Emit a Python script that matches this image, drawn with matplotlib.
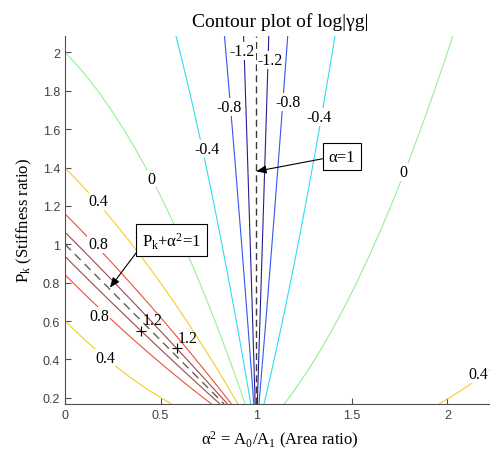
import numpy as np
import matplotlib
matplotlib.use("Agg")
import matplotlib.pyplot as plt

plt.rcParams["mathtext.fontset"] = "custom"
plt.rcParams["mathtext.rm"] = "Liberation Serif"
plt.rcParams["mathtext.it"] = "Liberation Serif:italic"
plt.rcParams["mathtext.bf"] = "Liberation Serif:bold"

# plotted range: alpha^2 = A0/A1 along x, Pk along y
area_lim = [0.0, 2.25]
stiff_lim = [0.168, 2.088]

# contour levels of log|yg| and the colour of each level line (jet-like)
levels = [-1.2, -0.8, -0.4, 0.0, 0.4, 0.8, 1.2]
level_colors = ["#222296", "#3456f5", "#30dcf5", "#96f096",
                "#f6cc28", "#f04e3a", "#a04848"]

# inline contour labels
label_text = ["-1.2", "-1.2", "-0.8", "-0.8", "-0.4", "-0.4", "0", "0",
              "0.4", "0.8", "0.8", "0.4", "0.4"]
label_x = [0.928, 1.072, 0.858, 1.164, 0.745, 1.329, 0.453, 1.768,
           0.173, 0.173, 0.18, 0.209, 2.162]
label_y = [2.007, 1.96, 1.715, 1.74, 1.497, 1.663, 1.34, 1.377,
           1.224, 1.0, 0.625, 0.41, 0.325]

# labels with a "+" marker
plus_text = ["1.2", "1.2"]
plus_x = [0.40, 0.584]
plus_y = [0.547, 0.458]

# guide lines alpha^2 = 1 and Pk + alpha^2 = 1
vert_x = [1.0, 1.0]
vert_y = [0.168, 2.088]
diag_x = [0.0, 0.832]
diag_y = [1.0, 0.168]

xticks = [0, 0.5, 1, 1.5, 2]
xtick_labels = ["0", "0.5", "1", "1.5", "2"]
yticks = [0.2, 0.4, 0.6, 0.8, 1.0, 1.2, 1.4, 1.6, 1.8, 2.0]
ytick_labels = ["0.2", "0.4", "0.6", "0.8", "1", "1.2", "1.4", "1.6", "1.8", "2"]

serif = "Liberation Serif"

fig = plt.figure(figsize=(4.9, 4.52), dpi=100)
ax = fig.add_axes([65 / 490, 47 / 452, 2.25 * 191.2 / 490, 368.5 / 452])

a = np.linspace(area_lim[0], area_lim[1], 452)
pk = np.linspace(stiff_lim[0], stiff_lim[1], 401)
A, PK = np.meshgrid(a, pk)
with np.errstate(divide="ignore", invalid="ignore"):
    gg = np.log10(np.abs((1 - A ** 2) / (1 - A - PK)))
gg = np.clip(np.nan_to_num(gg, nan=0.0, posinf=6, neginf=-6), -6, 6)

ax.contour(A, PK, gg, levels=levels, colors=level_colors,
           linewidths=0.8, linestyles="solid", zorder=2)

ax.plot(vert_x, vert_y, color="#3a3a3a", lw=1.0, dashes=(5, 3), zorder=2.5)
ax.plot(diag_x, diag_y, color="#606060", lw=1.0, dashes=(6, 4), zorder=2.5)

for t, x, y in zip(label_text, label_x, label_y):
    ax.text(x, y, t, ha="center", va="center", fontsize=11.5, family=serif,
            bbox=dict(fc="white", ec="none", pad=0.6), zorder=3)

ax.plot(plus_x, plus_y, "+", color="k", ms=7, mew=0.8, zorder=4)
for t, x, y in zip(plus_text, plus_x, plus_y):
    ax.annotate(t, (x, y), xytext=(0.5, 2), textcoords="offset points",
                ha="left", va="bottom", fontsize=11.5, family=serif, zorder=4)

box = dict(boxstyle="square,pad=0.35", fc="white", ec="black", lw=0.8)
ax.annotate("α=1", xy=(1.0, 1.38), xytext=(1.449, 1.457),
            ha="center", va="center", fontsize=12, family=serif, bbox=box,
            arrowprops=dict(arrowstyle="-|>,head_length=0.5,head_width=0.2",
                            color="black", lw=0.8, mutation_scale=12,
                            relpos=(0, 0.44), shrinkA=0, shrinkB=0), zorder=5)
ax.annotate("P$_\\mathrm{k}$+α$^2$=1", xy=(0.235, 0.774), xytext=(0.558, 1.02),
            ha="center", va="center", fontsize=12, family=serif, bbox=box,
            arrowprops=dict(arrowstyle="-|>,head_length=0.5,head_width=0.2",
                            color="black", lw=0.8, mutation_scale=12,
                            relpos=(0, 0.29), shrinkA=0, shrinkB=0), zorder=5)

ax.set_xlim(area_lim)
ax.set_ylim(stiff_lim)
ax.set_xticks(xticks)
ax.set_xticklabels(xtick_labels)
ax.set_yticks(yticks)
ax.set_yticklabels(ytick_labels)
ax.tick_params(direction="in", length=4, width=0.8, colors="#505050",
               labelcolor="#404040", labelsize=9)
for lab in ax.get_xticklabels() + ax.get_yticklabels():
    lab.set_family("Liberation Sans")
ax.spines["top"].set_visible(False)
ax.spines["right"].set_visible(False)
ax.spines["left"].set_color("#505050")
ax.spines["bottom"].set_color("#505050")

ax.set_title("Contour plot of log|γg|", fontsize=14, family=serif, pad=7)
ax.set_xlabel("α$^2$ = A$_0$/A$_1$ (Area ratio)", fontsize=12, family=serif,
              labelpad=6)
ax.set_ylabel("P$_\\mathrm{k}$ (Stiffness ratio)", fontsize=12, family=serif,
              labelpad=6)

fig.savefig("out.png", dpi=100)
